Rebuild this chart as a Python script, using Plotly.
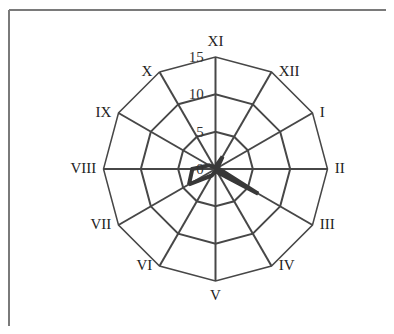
import plotly.graph_objects as go

months = ["XI", "XII", "I", "II", "III", "IV", "V", "VI", "VII", "VIII", "IX", "X"]
values = [0.3, 1.9, 0.3, 0.5, 6.6, 0.5, 0.3, 1.0, 4.1, 3.1, 1.0, 0.3]
radial_ticks = [0, 5, 10, 15]
r_max = 15

OFF = 8  # default page body margin
W, H = 394 - 2 * OFF, 334 - 2 * OFF
cx, cy, R = 215.5 - OFF, 169 - OFF, 112

label_pos = ["top center", "middle right", "middle right", "middle right",
             "middle right", "middle right", "bottom center", "middle left",
             "middle left", "middle left", "middle left", "middle left"]

serif = "Liberation Serif, Times New Roman, serif"

fig = go.Figure()
fig.add_trace(go.Scatterpolar(
    r=values + values[:1],
    theta=months + months[:1],
    mode="lines",
    line=dict(color="#383838", width=4),
    hoverinfo="skip",
    showlegend=False,
))
# category labels placed at the outer vertices
fig.add_trace(go.Scatterpolar(
    r=[r_max] * len(months),
    theta=months,
    mode="markers+text",
    text=months,
    textposition=label_pos,
    textfont=dict(family=serif, size=15, color="#222222"),
    marker=dict(size=10, color="rgba(0,0,0,0)"),
    hoverinfo="skip",
    showlegend=False,
    cliponaxis=False,
))

fig.update_layout(
    width=W, height=H,
    margin=dict(l=0, r=0, t=0, b=0),
    paper_bgcolor="#ffffff",
    plot_bgcolor="#ffffff",
    polar=dict(
        domain=dict(x=[(cx - R) / W, (cx + R) / W],
                    y=[(H - cy - R) / H, (H - cy + R) / H]),
        bgcolor="rgba(0,0,0,0)",
        gridshape="linear",
        angularaxis=dict(
            categoryorder="array", categoryarray=months,
            direction="clockwise", rotation=90,
            showline=True, linecolor="#474747", linewidth=1.5,
            gridcolor="#474747", gridwidth=1.5,
            ticks="", showticklabels=False,
        ),
        radialaxis=dict(
            range=[0, r_max], tickvals=radial_ticks,
            ticktext=[str(v) for v in radial_ticks],
            angle=90, tickangle=90, side="counterclockwise",
            showline=False, ticks="outside", ticklen=6, tickcolor="rgba(0,0,0,0)",
            gridcolor="#474747", gridwidth=1.5,
            tickfont=dict(family=serif, size=15, color="#333333"),
        ),
    ),
    shapes=[
        dict(type="line", xref="paper", yref="paper",
             x0=1 / W, x1=1 / W, y0=0, y1=1 - 2 / H,
             line=dict(color="#7a7a7a", width=2)),
        dict(type="line", xref="paper", yref="paper",
             x0=1 / W, x1=1, y0=1 - 2 / H, y1=1 - 2 / H,
             line=dict(color="#7a7a7a", width=2)),
    ],
)

fig.write_html("out.html")
